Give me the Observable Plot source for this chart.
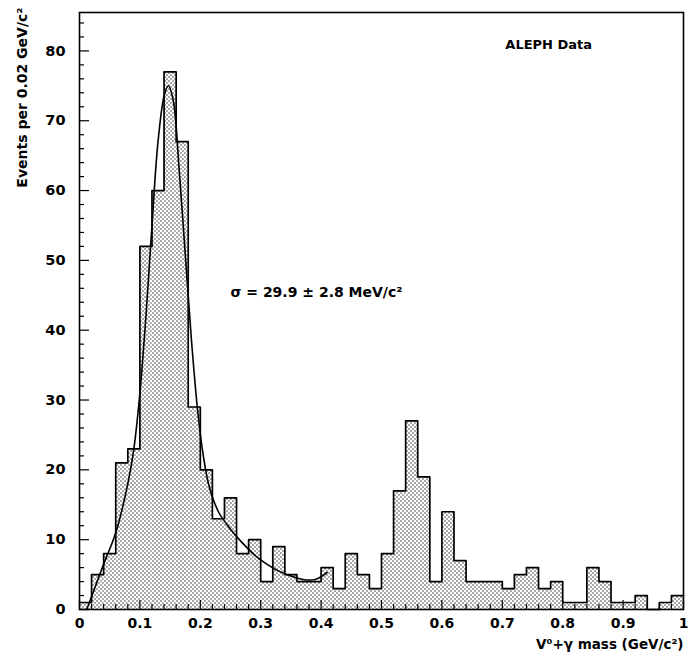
<!DOCTYPE html>
<html><head><meta charset="utf-8">
<script src="https://cdn.jsdelivr.net/npm/d3@7"></script>
<script src="https://cdn.jsdelivr.net/npm/@observablehq/plot@0.6"></script>
<style>body{margin:0;background:#fff}</style>
</head><body><div id="chart"></div>
<script>
// Bin lower edges (GeV/c^2), bin width 0.02
const binLo = [0.00,0.02,0.04,0.06,0.08,0.10,0.12,0.14,0.16,0.18,
               0.20,0.22,0.24,0.26,0.28,0.30,0.32,0.34,0.36,0.38,
               0.40,0.42,0.44,0.46,0.48,0.50,0.52,0.54,0.56,0.58,
               0.60,0.62,0.64,0.66,0.68,0.70,0.72,0.74,0.76,0.78,
               0.80,0.82,0.84,0.86,0.88,0.90,0.92,0.94,0.96,0.98];
const binHi = [0.02,0.04,0.06,0.08,0.10,0.12,0.14,0.16,0.18,0.20,
               0.22,0.24,0.26,0.28,0.30,0.32,0.34,0.36,0.38,0.40,
               0.42,0.44,0.46,0.48,0.50,0.52,0.54,0.56,0.58,0.60,
               0.62,0.64,0.66,0.68,0.70,0.72,0.74,0.76,0.78,0.80,
               0.82,0.84,0.86,0.88,0.90,0.92,0.94,0.96,0.98,1.00];
const counts = [1,5,8,21,23,52,60,77,67,29,
                20,13,16,8,10,4,9,5,4,4,
                6,3,8,5,3,8,17,27,19,4,
                14,7,4,4,4,3,5,6,3,4,
                1,1,6,4,1,1,2,0,1,2];
// Fitted curve
const fitX = [0.012,0.025,0.040,0.060,0.080,0.090,0.100,0.110,0.120,0.130,0.140,0.147,0.155,0.165,0.175,0.185,0.195,0.205,0.215,0.230,0.250,0.270,0.290,0.310,0.330,0.350,0.370,0.390,0.400,0.410];
const fitY = [0,3,6.5,11,18,23,31,42,55,67,73.5,75,73,63,51,39,29,22,17.5,14,11.5,9.5,7.8,6.5,5.5,4.8,4.3,4.3,4.7,5.3];
// Axis ticks
const xTicks = [0,0.1,0.2,0.3,0.4,0.5,0.6,0.7,0.8,0.9,1];
const xTickLabels = ["0","0.1","0.2","0.3","0.4","0.5","0.6","0.7","0.8","0.9","1"];
const xMinor = [0.02,0.04,0.06,0.08,0.12,0.14,0.16,0.18,0.22,0.24,0.26,0.28,0.32,0.34,0.36,0.38,0.42,0.44,0.46,0.48,0.52,0.54,0.56,0.58,0.62,0.64,0.66,0.68,0.72,0.74,0.76,0.78,0.82,0.84,0.86,0.88,0.92,0.94,0.96,0.98];
const yTicks = [0,10,20,30,40,50,60,70,80];
const yTickLabels = ["0","10","20","30","40","50","60","70","80"];
const yMinor = [2,4,6,8,12,14,16,18,22,24,26,28,32,34,36,38,42,44,46,48,52,54,56,58,62,64,66,68,72,74,76,78,82,84];
const yLabel = "Events per 0.02 GeV/c²";
const xLabel = "V⁰+γ mass (GeV/c²)";
const legendText = "ALEPH Data";
const sigmaText = "σ = 29.9 ± 2.8 MeV/c²";

const W = 688, H = 657;
const mL = 79, mR = 5, mT = 12, mB = 48;
const innerW = W - mL - mR, innerH = H - mT - mB;

const bins = binLo.map((lo, i) => ({lo, hi: binHi[i], c: counts[i]}));
const outline = binLo.map((lo, i) => ({x: lo, y: counts[i]}));
outline.push({x: binHi[binHi.length - 1], y: counts[counts.length - 1]});
const fit = fitX.map((x, i) => ({x, y: fitY[i]}));

const font = "DejaVu Sans";
const chart = Plot.plot({
  width: W, height: H,
  marginLeft: mL, marginRight: mR, marginTop: mT, marginBottom: mB,
  style: {fontFamily: font, fontWeight: "bold", background: "white"},
  x: {domain: [0, 1]},
  y: {domain: [0, 85.5]},
  marks: [
    Plot.rectY(bins, {x1: "lo", x2: "hi", y: "c", fill: "url(#dots)"}),
    Plot.lineY(outline, {x: "x", y: "y", curve: "step-after", stroke: "black", strokeWidth: 1.7}),
    Plot.line(fit, {x: "x", y: "y", curve: "catmull-rom", stroke: "black", strokeWidth: 1.6}),
    Plot.tickX(xTicks, {x: d => d, insetTop: innerH - 9, stroke: "black", strokeWidth: 1.2}),
    Plot.tickX(xMinor, {x: d => d, insetTop: innerH - 5, stroke: "black", strokeWidth: 1.2}),
    Plot.tickY(yTicks, {y: d => d, insetRight: innerW - 10, stroke: "black", strokeWidth: 1.2}),
    Plot.tickY(yMinor, {y: d => d, insetRight: innerW - 5, stroke: "black", strokeWidth: 1.2}),
    Plot.axisX({ticks: xTicks, tickSize: 0, tickPadding: 9, fontSize: 14,
      tickFormat: d => xTickLabels[xTicks.indexOf(d)], label: null}),
    Plot.axisY({ticks: yTicks, tickSize: 0, tickPadding: 14, fontSize: 14.5,
      tickFormat: d => yTickLabels[yTicks.indexOf(d)], label: null}),
    Plot.frame({stroke: "black", strokeWidth: 1.6}),
    Plot.text([yLabel], {frameAnchor: "top-left", rotate: -90, textAnchor: "end", dx: -62, dy: -5, fontSize: 14, fill: "black"}),
    Plot.text([xLabel], {frameAnchor: "bottom-right", textAnchor: "end", dy: 39, fontSize: 13.5, fill: "black"}),
    Plot.text([legendText], {x: 0.705, y: 80.8, textAnchor: "start", fontSize: 13, fill: "black"}),
    Plot.text([sigmaText], {x: 0.25, y: 45.4, textAnchor: "start", fontSize: 14, fill: "black"})
  ]
});

const svg = d3.select(chart);
const defs = svg.insert("defs", ":first-child");
const pat = defs.append("pattern").attr("id", "dots").attr("patternUnits", "userSpaceOnUse")
  .attr("width", 4).attr("height", 4);
pat.append("rect").attr("width", 4).attr("height", 4).attr("fill", "white");
pat.append("circle").attr("cx", 1).attr("cy", 1).attr("r", 0.7).attr("fill", "#111");
pat.append("circle").attr("cx", 3).attr("cy", 3).attr("r", 0.7).attr("fill", "#111");
document.getElementById("chart").appendChild(chart);
</script>
</body></html>
